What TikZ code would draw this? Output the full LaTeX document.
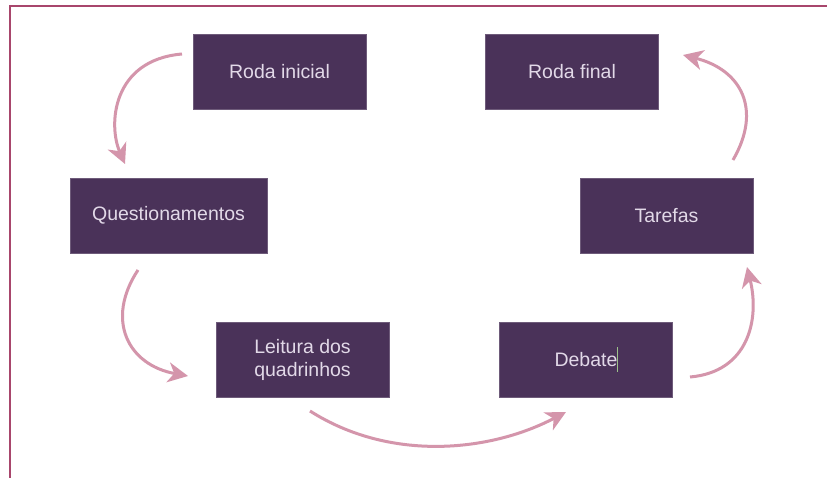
\documentclass[tikz,border=0pt]{standalone}
\usepackage{fontspec}
\setmainfont{Liberation Sans}
\usetikzlibrary{arrows.meta}
\definecolor{boxfill}{HTML}{4A3259}
\definecolor{boxtext}{HTML}{E2D9E8}
\definecolor{arrowpink}{HTML}{D495AB}
\definecolor{framecol}{HTML}{A8466C}
\definecolor{cursorcol}{HTML}{9CC08A}
\tikzset{
  stagebox/.style={fill=boxfill, draw=boxfill!80!white, line width=0.6pt, text=boxtext,
    minimum width=173pt, minimum height=75pt, inner sep=0pt, align=center,
    font=\fontsize{19.5}{23.5}\selectfont},
  flow/.style={draw=arrowpink, line width=3pt,
    -{Stealth[length=20pt, width=20pt, inset=6pt]}},
}
\begin{document}
\begin{tikzpicture}[x=1pt, y=-1pt]
\useasboundingbox (0,0) rectangle (827,478);
\fill[white] (0,0) rectangle (827,478);
% frame
\draw[framecol, line width=2.6pt] (10,478) -- (10,6) -- (827,6);
% boxes
\node[stagebox] (ri) at (279.5,71.5) {Roda inicial};
\node[stagebox] (rf) at (572,71.5) {Roda final};
\node[stagebox, minimum width=197pt] (qu) at (168.5,215.5) {Questionamentos};
\node[stagebox] (ta) at (666.5,215.5) {Tarefas};
\node[stagebox] (le) at (302.5,360) {Leitura dos\\quadrinhos};
\node[stagebox] (de) at (586,360) {Debate};
% text cursor
\draw[cursorcol, line width=1pt] (617,347) -- (617,372);
% connector ends
\coordinate (a1) at (182,54);   \coordinate (b1) at (125,164);
\coordinate (a2) at (138,270);  \coordinate (b2) at (188,376);
\coordinate (a3) at (310,411);  \coordinate (b3) at (566,412);
\coordinate (a4) at (690,377);  \coordinate (b4) at (747,267);
\coordinate (a5) at (733,160);  \coordinate (b5) at (683,55);
% connectors
\draw[flow] (a1) .. controls (112,60) and (108,125) .. (b1);
\draw[flow] (a2) .. controls (105,320) and (128,365) .. (b2);
\draw[flow] (a3) .. controls (390,462) and (490,452) .. (b3);
\draw[flow] (a4) .. controls (748,372) and (760,320) .. (b4);
\draw[flow] (a5) .. controls (762,110) and (742,70) .. (b5);
\end{tikzpicture}
\end{document}
